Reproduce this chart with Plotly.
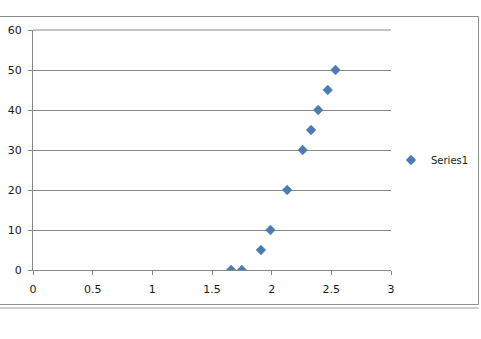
import plotly.graph_objects as go

x_values = [1.66, 1.75, 1.91, 1.99, 2.13, 2.26, 2.33, 2.39, 2.47, 2.535]
y_values = [0, 0, 5, 10, 20, 30, 35, 40, 45, 50]
series_name = "Series1"
x_ticks = [0, 0.5, 1, 1.5, 2, 2.5, 3]
x_tick_labels = ["0", "0.5", "1", "1.5", "2", "2.5", "3"]
y_ticks = [0, 10, 20, 30, 40, 50, 60]

W, H = 481, 339
L, R, T, B = 33, 90, 30, 69
pw, ph = W - L - R, H - T - B

def px(xp):
    return (xp - L) / pw

def py(yp):
    return (H - B - yp) / ph

grid = "#878787"
fig = go.Figure()
fig.add_trace(go.Scatter(
    x=x_values, y=y_values, mode="markers", name=series_name,
    marker=dict(symbol="diamond", size=7.5, color="#4A7BB3",
                line=dict(width=0.6, color="#5B8CC6")),
))

fig.update_layout(
    width=W, height=H,
    margin=dict(l=L, r=R, t=T, b=B, autoexpand=False),
    paper_bgcolor="white", plot_bgcolor="white",
    font=dict(family="DejaVu Sans", size=11, color="#1a1a1a"),
    showlegend=True,
    legend=dict(xref="container", yref="container",
                x=391 / W, y=(H - 160) / H, xanchor="left", yanchor="middle",
                font=dict(size=10), itemwidth=30, bgcolor="rgba(0,0,0,0)",
                tracegroupgap=0),
    xaxis=dict(range=[0, 3], tickvals=x_ticks, ticktext=x_tick_labels,
               showgrid=False, zeroline=False, showline=True, linecolor=grid,
               linewidth=1, ticks="outside", ticklen=4, tickcolor=grid,
               ticklabelstandoff=5, fixedrange=True),
    yaxis=dict(range=[0, 60], tickvals=y_ticks, showgrid=True, gridcolor=grid,
               gridwidth=1, zeroline=False, showline=True, linecolor=grid,
               linewidth=1, ticks="outside", ticklen=4, tickcolor=grid,
               ticklabelstandoff=4, fixedrange=True),
    shapes=[
        dict(type="rect", xref="paper", yref="paper",
             x0=px(-1), x1=px(478.5), y0=py(304.5), y1=py(16.5),
             line=dict(color="#8c8c8c", width=1), fillcolor="rgba(0,0,0,0)",
             layer="below"),
        dict(type="line", xref="paper", yref="paper",
             x0=px(-1), x1=px(478.5), y0=py(308), y1=py(308),
             line=dict(color="#a0a0a0", width=1)),
        dict(type="line", xref="paper", yref="paper",
             x0=0, x1=1, y0=1, y1=1,
             line=dict(color=grid, width=1)),
    ],
)

fig.write_html("out.html")
